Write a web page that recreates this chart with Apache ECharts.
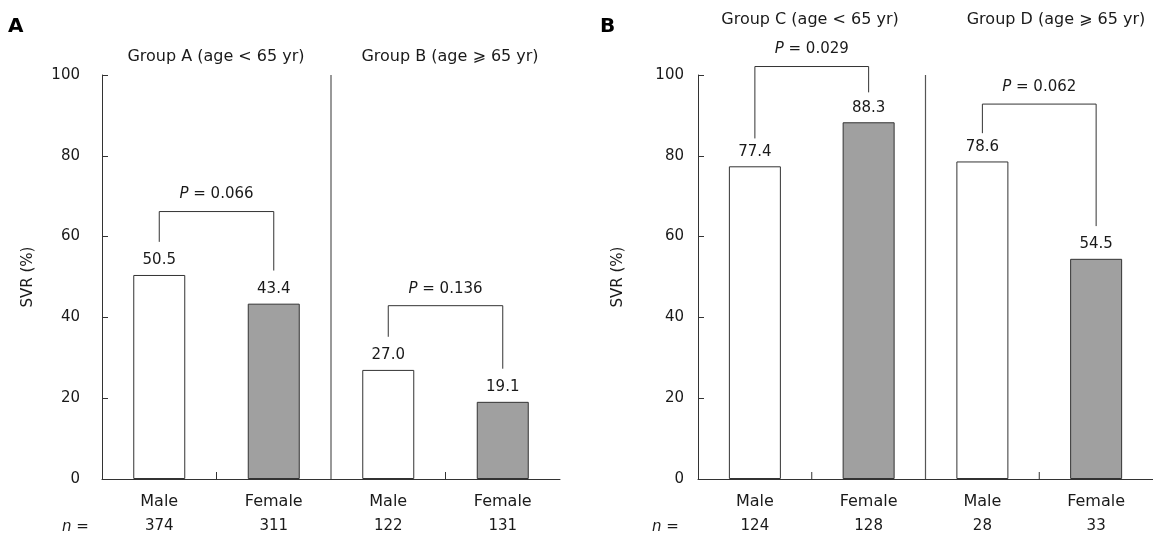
<!DOCTYPE html>
<html lang="en">
<head>
    <meta charset="UTF-8">
    <title>SVR by sex and age</title>
    <script type="text/javascript" src="https://cdn.jsdelivr.net/npm/echarts@6/dist/echarts.min.js"></script>
</head>
<style>
    html, body { margin: 0; padding: 0; background: #fff; }
    #container { width: 1153px; height: 541px; }
</style>
<body>
<div id="container"></div>
<script>

    // data
    var categories = ['Male', 'Female', 'Male', 'Female'];
    var nA = ['374', '311', '122', '131'];
    var nB = ['124', '128', '28', '33'];
    var svrA = [50.5, 43.4, 27.0, 19.1];
    var svrB = [77.4, 88.3, 78.6, 54.5];
    var yTicks = [0, 20, 40, 60, 80, 100];

    var groupTitlesA = ['Group A (age < 65 yr)', 'Group B (age \u2A7E 65 yr)'];
    var groupTitlesB = ['Group C (age < 65 yr)', 'Group D (age \u2A7E 65 yr)'];

    // P value brackets: [left category, right category, top level, left leg end, right leg end]
    var pValuesA = ['0.066', '0.136'];
    var bracketsA = [[0, 1, 66.2, 58.7, 51.6], [2, 3, 42.9, 35.2, 27.3]];
    var pValuesB = ['0.029', '0.062'];
    var bracketsB = [[0, 1, 102.1, 84.3, 95.7], [2, 3, 92.8, 85.6, 62.6]];

    var FONT = 'DejaVu Sans';
    var TEXT = '#1a1a1a';
    var LINE = '#333';

    var chart = echarts.init(document.getElementById('container'));

    function barData(values) {
        return values.map(function (v, i) {
            return {
                value: v,
                itemStyle: {color: i % 2 === 0 ? '#ffffff' : '#a0a0a0'}
            };
        });
    }

    function bracketRenderer(pValues) {
        return function (params, api) {
            var a = api.coord([api.value(0), api.value(3)]);
            var b = api.coord([api.value(1), api.value(4)]);
            var yTop = api.coord([api.value(0), api.value(2)])[1];
            return {
                type: 'group',
                children: [
                    {
                        type: 'polyline',
                        shape: {points: [[a[0], a[1]], [a[0], yTop], [b[0], yTop], [b[0], b[1]]]},
                        style: {stroke: LINE, fill: null, lineWidth: 1}
                    },
                    {
                        type: 'text',
                        x: (a[0] + b[0]) / 2,
                        y: yTop - 17,
                        style: {
                            text: '{i|P} = ' + pValues[params.dataIndex],
                            align: 'center',
                            verticalAlign: 'middle',
                            fontFamily: FONT,
                            fontSize: 15,
                            fill: TEXT,
                            rich: {i: {fontStyle: 'italic', fontFamily: FONT, fontSize: 15, fill: TEXT}}
                        }
                    }
                ]
            };
        };
    }

    // vertical line between the two age groups, plus the small ticks between Male and Female
    function dividerRenderer(params, api) {
        var c = [0, 1, 2, 3].map(function (i) { return api.coord([i, 0]); });
        var top = api.coord([1, yTicks[yTicks.length - 1]])[1];
        var y0 = c[0][1];
        var xDiv = (c[1][0] + c[2][0]) / 2;
        var xT1 = (c[0][0] + c[1][0]) / 2;
        var xT2 = (c[2][0] + c[3][0]) / 2;
        return {
            type: 'group',
            children: [
                {type: 'line', shape: {x1: xDiv, y1: y0, x2: xDiv, y2: top}, style: {stroke: '#555', lineWidth: 1.2}},
                {type: 'line', shape: {x1: xT1, y1: y0, x2: xT1, y2: y0 - 7}, style: {stroke: LINE, lineWidth: 1}},
                {type: 'line', shape: {x1: xT2, y1: y0, x2: xT2, y2: y0 - 7}, style: {stroke: LINE, lineWidth: 1}}
            ]
        };
    }

    function xAxisFor(gridIndex, nList) {
        return {
            type: 'category',
            gridIndex: gridIndex,
            data: categories,
            axisLine: {lineStyle: {color: LINE, width: 1}},
            axisTick: {show: false},
            axisLabel: {
                interval: 0,
                margin: 10,
                color: TEXT,
                fontFamily: FONT,
                fontSize: 15,
                lineHeight: 25,
                formatter: function (value, index) {
                    return '{w|' + value + '}\n' + nList[index];
                },
                rich: {w: {fontFamily: FONT, fontSize: 16, color: TEXT, lineHeight: 25}}
            }
        };
    }

    function yAxisFor(gridIndex, labelMargin, nameGap) {
        return {
            type: 'value',
            gridIndex: gridIndex,
            min: yTicks[0],
            max: yTicks[yTicks.length - 1],
            interval: yTicks[1] - yTicks[0],
            name: 'SVR (%)',
            nameLocation: 'middle',
            nameRotate: 90,
            nameGap: nameGap,
            nameTextStyle: {color: TEXT, fontFamily: FONT, fontSize: 15},
            splitLine: {show: false},
            axisLine: {show: true, lineStyle: {color: LINE, width: 1}},
            axisTick: {show: true, inside: true, length: 6, lineStyle: {color: LINE}},
            axisLabel: {margin: labelMargin, color: TEXT, fontFamily: FONT, fontSize: 15}
        };
    }

    function barSeries(index, values) {
        return {
            type: 'bar',
            xAxisIndex: index,
            yAxisIndex: index,
            barWidth: 52,
            data: barData(values),
            itemStyle: {borderColor: LINE, borderWidth: 1},
            label: {
                show: true,
                position: 'top',
                distance: 7,
                color: TEXT,
                fontFamily: FONT,
                fontSize: 15,
                formatter: function (p) { return p.value.toFixed(1); }
            },
            emphasis: {disabled: true},
            animation: false
        };
    }

    function titleText(text, x, y) {
        return {
            type: 'text', x: x, y: y,
            style: {text: text, align: 'center', verticalAlign: 'middle', fontFamily: FONT, fontSize: 16, fill: TEXT}
        };
    }

    function nLabel(x) {
        return {
            type: 'text', x: x, y: 527,
            style: {
                text: '{i|n} =', verticalAlign: 'middle', fontFamily: FONT, fontSize: 15, fill: TEXT,
                rich: {i: {fontStyle: 'italic', fontFamily: FONT, fontSize: 15, fill: TEXT}}
            }
        };
    }

    var option = {
        backgroundColor: '#fff',
        animation: false,
        grid: [
            {left: 102, top: 75, width: 458, height: 404},
            {left: 698, top: 75, width: 457, height: 404}
        ],
        xAxis: [xAxisFor(0, nA), xAxisFor(1, nB)],
        yAxis: [yAxisFor(0, 22, 66), yAxisFor(1, 14, 72)],
        graphic: [
            {type: 'text', x: 8, y: 27, style: {text: 'A', verticalAlign: 'middle', fontFamily: FONT, fontSize: 20, fontWeight: 'bold', fill: '#000'}},
            {type: 'text', x: 600, y: 27, style: {text: 'B', verticalAlign: 'middle', fontFamily: FONT, fontSize: 20, fontWeight: 'bold', fill: '#000'}},
            titleText(groupTitlesA[0], 216, 57),
            titleText(groupTitlesA[1], 450, 57),
            titleText(groupTitlesB[0], 810, 20),
            titleText(groupTitlesB[1], 1056, 20),
            nLabel(62),
            nLabel(652)
        ],
        series: [
            barSeries(0, svrA),
            barSeries(1, svrB),
            {
                type: 'custom', xAxisIndex: 0, yAxisIndex: 0, clip: false,
                renderItem: bracketRenderer(pValuesA), data: bracketsA,
                encode: {x: [0, 1], y: [2, 3, 4]}, silent: true
            },
            {
                type: 'custom', xAxisIndex: 1, yAxisIndex: 1, clip: false,
                renderItem: bracketRenderer(pValuesB), data: bracketsB,
                encode: {x: [0, 1], y: [2, 3, 4]}, silent: true
            },
            {type: 'custom', xAxisIndex: 0, yAxisIndex: 0, renderItem: dividerRenderer, data: [[0, 0]], silent: true},
            {type: 'custom', xAxisIndex: 1, yAxisIndex: 1, renderItem: dividerRenderer, data: [[0, 0]], silent: true}
        ]
    };

    chart.setOption(option);
</script>
</body>
</html>
